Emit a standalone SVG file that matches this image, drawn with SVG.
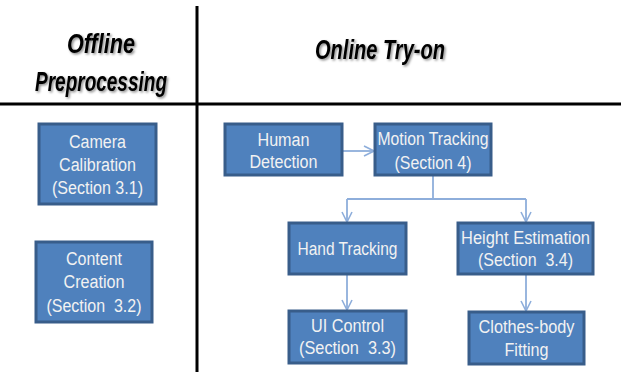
<svg xmlns="http://www.w3.org/2000/svg" width="621" height="372" viewBox="0 0 621 372">
  <defs>
    <style>
      .hdr { font-family: "Liberation Sans", Arial, sans-serif; font-weight: bold; font-style: italic; font-size: 28px; fill: #000; text-anchor: middle; }
      .box { fill: #4F81BD; stroke: #385D8A; stroke-width: 3; }
      .lbl { font-family: "Liberation Sans", Arial, sans-serif; font-size: 18px; fill: #F2F2F2; text-anchor: middle; white-space: pre; }
      .con { fill: none; stroke: #8EAEDB; stroke-width: 1.8; }
      .rule { stroke: #000; stroke-width: 3; }
    </style>
    <marker id="arr" viewBox="0 0 12 12" refX="11" refY="6" markerWidth="12" markerHeight="12" markerUnits="userSpaceOnUse" orient="auto">
      <path d="M1,1 L11,6 L1,11" fill="none" stroke="#8EAEDB" stroke-width="1.6"/>
    </marker>
    <filter id="sh" x="-10%" y="-10%" width="130%" height="140%">
      <feDropShadow dx="1.5" dy="1.5" stdDeviation="1" flood-color="#000" flood-opacity="0.45"/>
    </filter>
  </defs>
  <rect width="621" height="372" fill="#fff"/>

  <g id="rules">
    <line class="rule" x1="197" y1="6" x2="197" y2="372"/>
    <line class="rule" x1="0" y1="104" x2="621" y2="104"/>
  </g>

  <g id="headers" filter="url(#sh)">
    <text class="hdr" x="101" y="53" textLength="68" lengthAdjust="spacingAndGlyphs">Offline</text>
    <text class="hdr" x="101" y="91" textLength="132" lengthAdjust="spacingAndGlyphs">Preprocessing</text>
    <text class="hdr" x="380" y="59" textLength="130" lengthAdjust="spacingAndGlyphs">Online Try-on</text>
  </g>

  <g id="connectors">
    <line class="con" x1="342" y1="151" x2="374" y2="151" marker-end="url(#arr)"/>
    <polyline class="con" points="433,175 433,199"/>
    <polyline class="con" points="347,199 526,199"/>
    <line class="con" x1="347" y1="199" x2="347" y2="222" marker-end="url(#arr)"/>
    <line class="con" x1="526" y1="199" x2="526" y2="222" marker-end="url(#arr)"/>
    <line class="con" x1="347" y1="274" x2="347" y2="310" marker-end="url(#arr)"/>
    <line class="con" x1="526" y1="274" x2="526" y2="311" marker-end="url(#arr)"/>
  </g>

  <g id="camera-calibration">
    <rect class="box" x="39" y="124" width="117" height="80"/>
    <text class="lbl" x="97.5" y="148" textLength="57" lengthAdjust="spacingAndGlyphs">Camera</text>
    <text class="lbl" x="97.5" y="171" textLength="77" lengthAdjust="spacingAndGlyphs">Calibration</text>
    <text class="lbl" x="97.5" y="194" textLength="91" lengthAdjust="spacingAndGlyphs">(Section 3.1)</text>
  </g>

  <g id="content-creation">
    <rect class="box" x="36" y="242" width="116" height="80"/>
    <text class="lbl" x="94" y="265" textLength="56" lengthAdjust="spacingAndGlyphs">Content</text>
    <text class="lbl" x="94" y="288" textLength="61" lengthAdjust="spacingAndGlyphs">Creation</text>
    <text class="lbl" x="94" y="312" textLength="95" lengthAdjust="spacingAndGlyphs">(Section  3.2)</text>
  </g>

  <g id="human-detection">
    <rect class="box" x="225" y="124" width="117" height="51"/>
    <text class="lbl" x="283.5" y="146" textLength="52" lengthAdjust="spacingAndGlyphs">Human</text>
    <text class="lbl" x="283.5" y="168" textLength="68" lengthAdjust="spacingAndGlyphs">Detection</text>
  </g>

  <g id="motion-tracking">
    <rect class="box" x="375" y="124" width="116" height="51"/>
    <text class="lbl" x="433" y="145" textLength="111" lengthAdjust="spacingAndGlyphs">Motion Tracking</text>
    <text class="lbl" x="433" y="169" textLength="77" lengthAdjust="spacingAndGlyphs">(Section 4)</text>
  </g>

  <g id="hand-tracking">
    <rect class="box" x="289" y="223" width="117" height="51"/>
    <text class="lbl" x="347.5" y="255" textLength="100" lengthAdjust="spacingAndGlyphs">Hand Tracking</text>
  </g>

  <g id="height-estimation">
    <rect class="box" x="458" y="223" width="135" height="51"/>
    <text class="lbl" x="525.5" y="244" textLength="129" lengthAdjust="spacingAndGlyphs">Height Estimation</text>
    <text class="lbl" x="525.5" y="266" textLength="95" lengthAdjust="spacingAndGlyphs">(Section  3.4)</text>
  </g>

  <g id="ui-control">
    <rect class="box" x="289" y="311" width="117" height="52"/>
    <text class="lbl" x="347.5" y="332" textLength="73" lengthAdjust="spacingAndGlyphs">UI Control</text>
    <text class="lbl" x="347.5" y="354" textLength="97" lengthAdjust="spacingAndGlyphs">(Section  3.3)</text>
  </g>

  <g id="clothes-body-fitting">
    <rect class="box" x="469" y="312" width="115" height="52"/>
    <text class="lbl" x="526.5" y="333" textLength="96" lengthAdjust="spacingAndGlyphs">Clothes-body</text>
    <text class="lbl" x="526.5" y="356" textLength="44" lengthAdjust="spacingAndGlyphs">Fitting</text>
  </g>
</svg>
